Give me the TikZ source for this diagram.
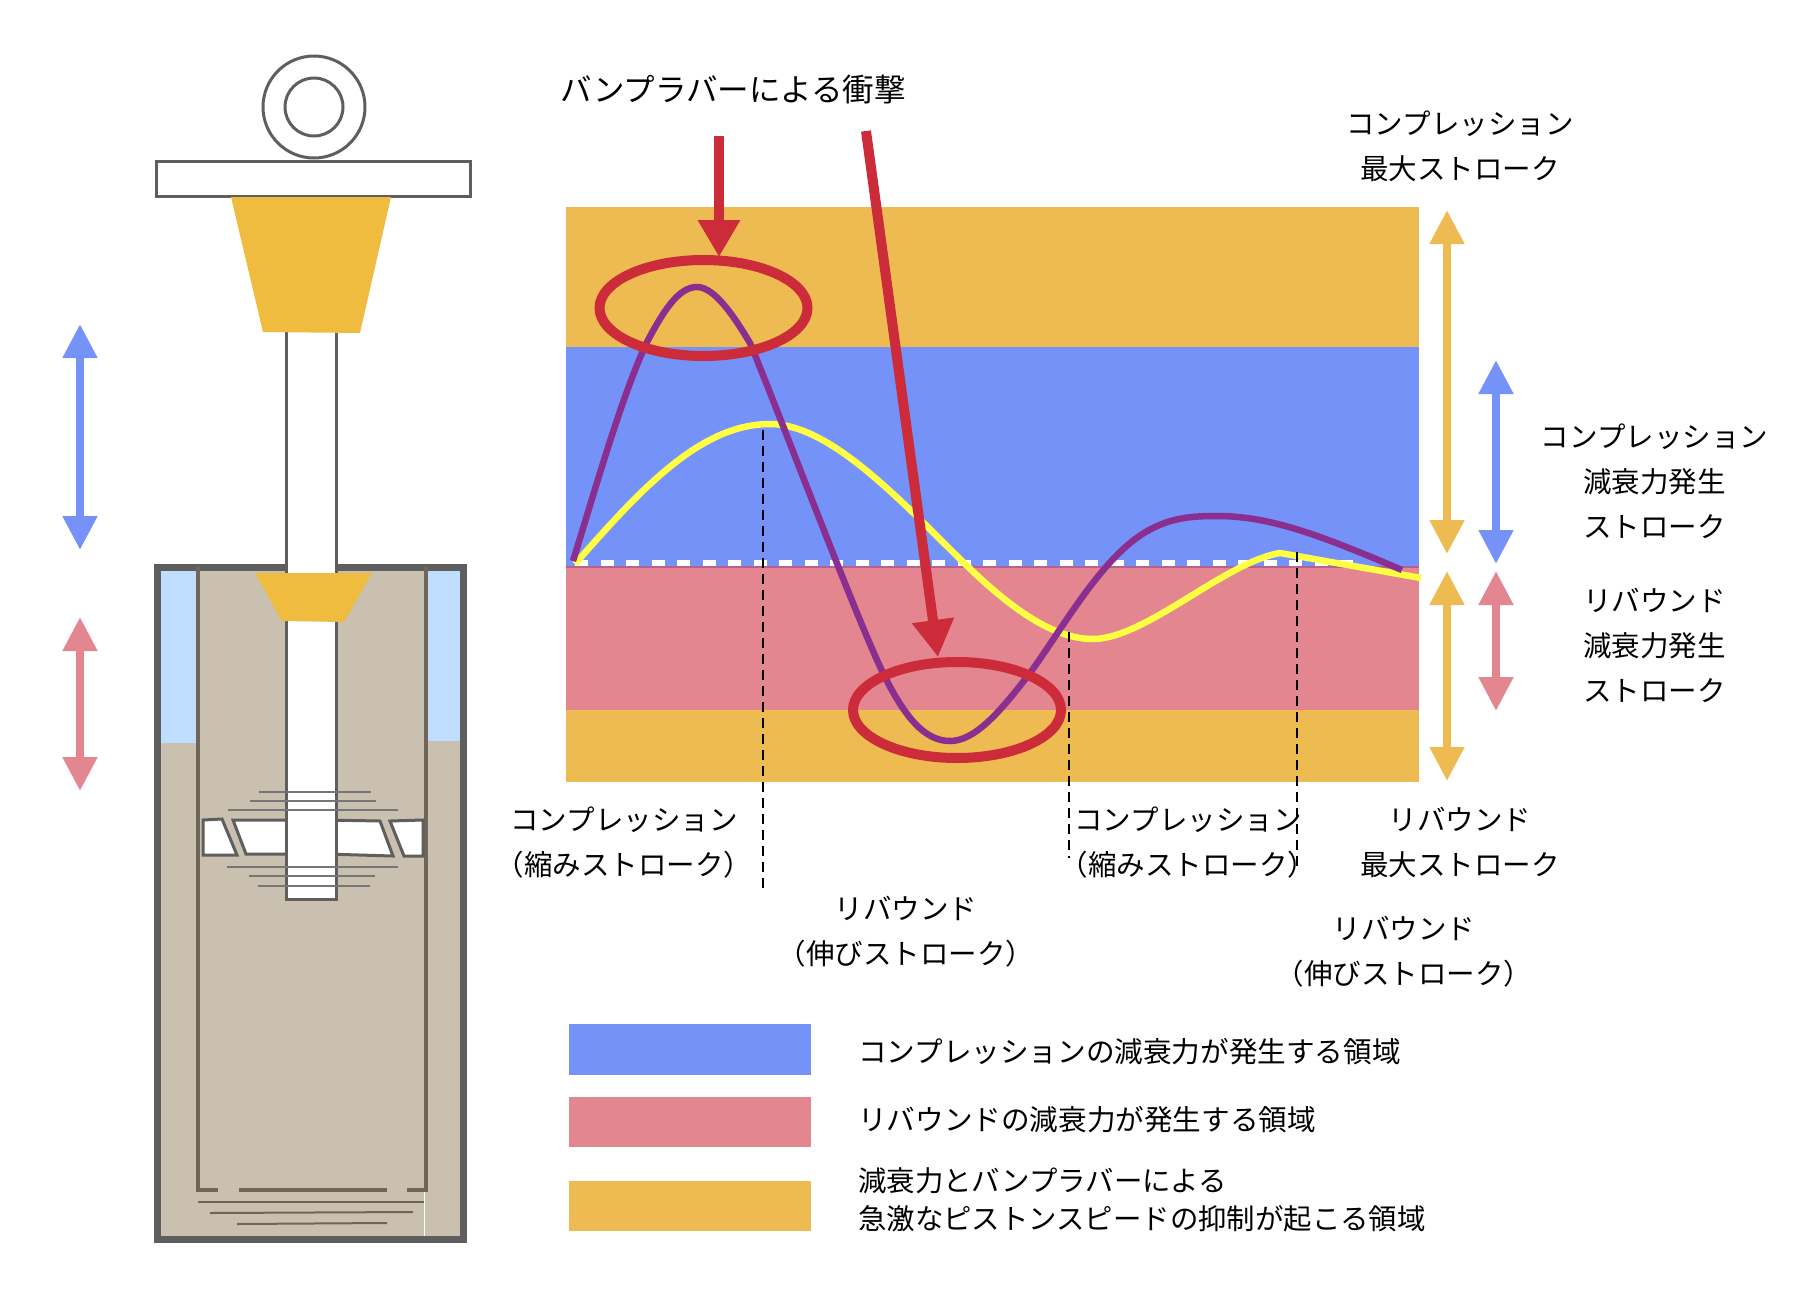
\documentclass[tikz,border=0pt]{standalone}
\usepackage{fontspec}
\setmainfont{Noto Sans CJK JP}
\usetikzlibrary{arrows.meta}
\definecolor{bandgold}{HTML}{EEBB52}
\definecolor{partgold}{HTML}{F0BC40}
\definecolor{bandblue}{HTML}{7592F8}
\definecolor{bandpink}{HTML}{E3868F}
\definecolor{skyblue}{HTML}{BEDDFF}
\definecolor{oiltan}{HTML}{C9C0B0}
\definecolor{wallgray}{HTML}{5E5E5E}
\definecolor{tubegray}{HTML}{6F6657}
\definecolor{strokered}{HTML}{CC2C39}
\definecolor{curvepurple}{HTML}{8A2F90}
\definecolor{curveyellow}{HTML}{FFFF44}
\tikzset{
  lbl/.style={font=\fontsize{28.5}{45}\selectfont,align=center,inner sep=0pt},
  legendlbl/.style={font=\fontsize{28.6}{38}\selectfont,align=left,inner sep=0pt,anchor=west},
  dblarrow/.style={line width=8pt,{Triangle[length=34pt,width=33pt]}-{Triangle[length=34pt,width=33pt]}},
  hitarrow/.style={line width=10pt,strokered,-{Triangle[length=37pt,width=40pt]}},
  hitring/.style={draw=strokered,line width=10pt},
  partline/.style={draw=wallgray,line width=3pt},
  shimline/.style={draw=wallgray!85,line width=2pt},
  tubeline/.style={draw=tubegray,line width=3.5pt},
  guideline/.style={draw=black,line width=2.2pt,dash pattern=on 10pt off 6pt}
}
\begin{document}
\begin{tikzpicture}[x=1pt,y=-1pt]
    \path[use as bounding box] (0,0) rectangle (1808,1302);

    % Damper body
    \fill[oiltan] (157.5,567) rectangle (463.5,1239);
    \fill[skyblue] (161,571) rectangle (198,743);
    \fill[skyblue] (427,571) rectangle (460,741);
    \draw[wallgray,line width=7pt] (157.5,567) rectangle (463.5,1239);
    \draw[tubeline] (198,567) -- (198,1190) -- (218,1190);
    \draw[tubeline] (239,1190) -- (387,1190);
    \draw[tubeline] (407,1190) -- (426,1190) -- (426,567);
    \draw[white,line width=1.5pt] (424.5,1192) -- (424.5,1236);
    \draw[tubeline,line width=2pt] (198,1202) -- (424,1202);
    \draw[tubeline,line width=2pt] (210,1213) -- (413,1212);
    \draw[tubeline,line width=2pt] (237,1224) -- (387,1223);

    % Piston
    \draw[partline,fill=white] (203,820) -- (222,819) -- (237,855) -- (203,855) -- cycle;
    \draw[partline,fill=white] (233,820) -- (300,820) -- (300,854) -- (246,854) -- cycle;
    \draw[partline,fill=white] (325,820) -- (380,821) -- (393,856) -- (325,854) -- cycle;
    \draw[partline,fill=white] (390,821) -- (423,820) -- (423,856) -- (404,856) -- cycle;

    % Rod
    \fill[white] (286,332) rectangle (336,899);
    \draw[partline] (286,332) -- (286,899) -- (336,899) -- (336,332);
    \foreach \xa/\xb/\yy in {
    259/371/792,250/376/801,228/398/810,
    227/398/867,249/375/876,258/370/886}
    {
      \draw[shimline] (\xa,\yy) -- (\xb,\yy);
    }

    % Bump rubber
    \fill[partgold] (255,573) -- (372,573) -- (344,622) -- (282,621) -- cycle;
    \draw[partline,fill=white] (156,161) rectangle (470,196);
    \fill[partgold] (231,197) -- (391,197) -- (360,333) -- (263,332) -- cycle;

    % Eye
    \draw[partline] (314,107) circle (51);
    \draw[partline] (314,107) circle (29);

    % Stroke arrows
    \foreach \name/\xx/\ya/\yb/\col in {
    lblue/80/324/550/bandblue,lpink/80/617/791/bandpink,
    rgoldA/1447/210/554/bandgold,rgoldB/1447/571/781/bandgold,
    rblue/1496/360/564/bandblue,rpink/1496/571/711/bandpink}
    {
      \coordinate (\name a) at (\xx,\ya);
      \coordinate (\name b) at (\xx,\yb);
      \draw[dblarrow,\col] (\name a) -- (\name b);
    }

    % Bands
    \fill[bandgold] (566,207) rectangle (1419,347);
    \fill[bandblue] (566,347) rectangle (1419,567);
    \fill[bandpink] (566,567) rectangle (1419,710);
    \fill[bandgold] (566,710) rectangle (1419,782);
    \draw[white,line width=7pt,dash pattern=on 13pt off 12.5pt] (575,563.5) -- (1365,563.5);
    \draw[bandpink!55!curvepurple,line width=1.5pt] (566,567) -- (1419,567);

    % Curves
    \draw[curveyellow,line width=6.5pt] (575,564)
      .. controls (640,490) and (700,424) .. (770,424)
      .. controls (830,424) and (900,500) .. (963,562)
      .. controls (1005,603) and (1050,639) .. (1093,639)
      .. controls (1145,639) and (1225,562) .. (1280,553)
      -- (1421,578);
    \draw[curvepurple,line width=6.5pt] (573,561)
      .. controls (595,490) and (622,395) .. (647,342)
      .. controls (663,312) and (678,287) .. (697,287)
      .. controls (715,287) and (735,318) .. (750,343)
      .. controls (776,405) and (855,615) .. (883,673)
      .. controls (905,718) and (925,741) .. (950,741)
      .. controls (975,741) and (1000,712) .. (1030,673)
      .. controls (1065,625) and (1105,551) .. (1153,528)
      .. controls (1175,517) and (1195,516) .. (1217,516)
      .. controls (1270,516) and (1320,535) .. (1402,570);

    % Guides
    \draw[guideline] (763,430) -- (763,891);
    \draw[guideline] (1069,632) -- (1069,858);
    \draw[guideline] (1297,552) -- (1297,870);

    % Impact marks
    \draw[hitring] (703.5,308) ellipse (104 and 48);
    \draw[hitring] (957,710) ellipse (104 and 48);
    \coordinate (hitTopA) at (719,136);
    \coordinate (hitTopB) at (719,257);
    \coordinate (hitLowA) at (866,131);
    \coordinate (hitLowB) at (938,657);
    \draw[hitarrow] (hitTopA) -- (hitTopB);
    \draw[hitarrow] (hitLowA) -- (hitLowB);

    % Labels
    \node[lbl,font=\fontsize{31.5}{38}\selectfont] (titleImpact) at (733,90) {バンプラバーによる衝撃};
    \node[lbl] (maxComp) at (1460,146) {コンプレッション\\最大ストローク};
    \node[lbl] (zoneComp) at (1654.5,481.5) {コンプレッション\\減衰力発生\\ストローク};
    \node[lbl] (zoneReb) at (1654.5,645.5) {リバウンド\\減衰力発生\\ストローク};
    \node[lbl] (compA) at (624,843) {コンプレッション\\（縮みストローク）};
    \node[lbl] (rebA) at (906,932) {リバウンド\\（伸びストローク）};
    \node[lbl] (compB) at (1188,843) {コンプレッション\\（縮みストローク）};
    \node[lbl] (maxReb) at (1460,842) {リバウンド\\最大ストローク};
    \node[lbl] (rebB) at (1404,952) {リバウンド\\（伸びストローク）};

    % Legend
    \fill[bandblue] (569,1024) rectangle (811,1075);
    \fill[bandpink] (569,1097) rectangle (811,1147);
    \fill[bandgold] (569,1181) rectangle (811,1231);
    \node[legendlbl] (legComp) at (858,1052) {コンプレッションの減衰力が発生する領域};
    \node[legendlbl] (legReb) at (858,1120) {リバウンドの減衰力が発生する領域};
    \node[legendlbl,font=\fontsize{28.4}{38}\selectfont] (legBump) at (858,1200) {減衰力とバンプラバーによる\\急激なピストンスピードの抑制が起こる領域};
  \end{tikzpicture}
\end{document}
